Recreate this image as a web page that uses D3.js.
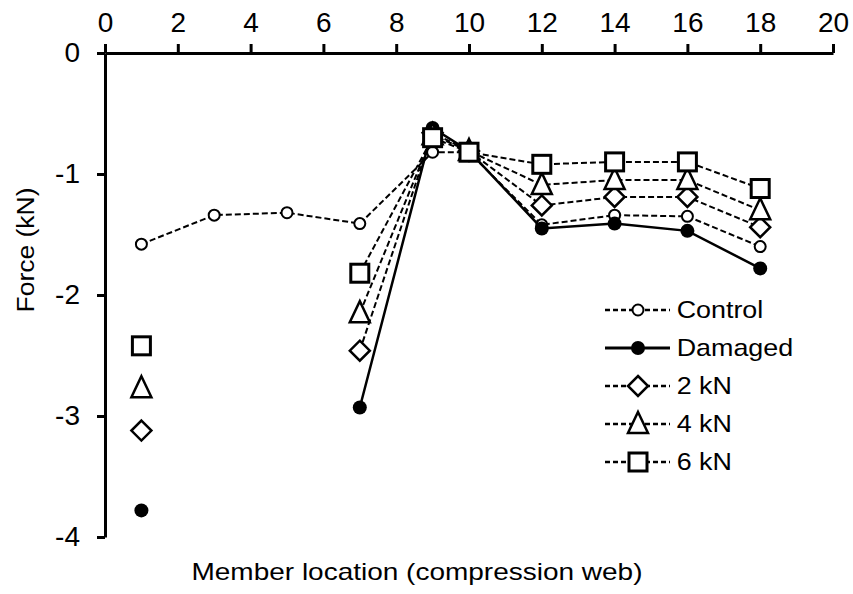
<!DOCTYPE html>
<html>
<head>
<meta charset="utf-8">
<style>
  body { margin: 0; background: #fff; }
  text { font-family: "Liberation Sans", Arial, sans-serif; fill: #000; }
</style>
</head>
<body>
<div id="chart"></div>

<script src="https://d3js.org/d3.v7.min.js"></script>
<script>

	var w = 853, h = 594;

	// member locations along the compression web
	var members = [1, 3, 5, 7, 9, 10, 12, 14, 16, 18];

	// member forces (kN), null where not measured
	var control = [-1.58, -1.34, -1.32, -1.41, -0.82, -0.82, -1.42, -1.34, -1.35, -1.60];
	var damaged = [-3.78, null, null, -2.93, -0.62, -0.81, -1.45, -1.41, -1.47, -1.78];
	var kn2     = [-3.12, null, null, -2.46, -0.66, -0.81, -1.26, -1.19, -1.19, -1.44];
	var kn4     = [-2.77, null, null, -2.15, -0.68, -0.81, -1.09, -1.05, -1.05, -1.30];
	var kn6     = [-2.42, null, null, -1.82, -0.70, -0.82, -0.92, -0.90, -0.90, -1.12];

	var xTicks = [0, 2, 4, 6, 8, 10, 12, 14, 16, 18, 20];
	var yTicks = [0, -1, -2, -3, -4];

	var series = [
		{ name: "Control", values: control, marker: "circle",   dashed: true },
		{ name: "Damaged", values: damaged, marker: "dot",      dashed: false },
		{ name: "2 kN",    values: kn2,     marker: "diamond",  dashed: true },
		{ name: "4 kN",    values: kn4,     marker: "triangle", dashed: true },
		{ name: "6 kN",    values: kn6,     marker: "square",   dashed: true }
	];

	var svg = d3.select("#chart")
				.append("svg")
				.attr("width", w)
				.attr("height", h);

	// scales
	var x = d3.scaleLinear().domain([0, 20]).range([105, 833]);
	var y = d3.scaleLinear().domain([0, -4]).range([53, 537]);

	// axes: x along the top, y on the left
	var xAxis = d3.axisTop(x).tickValues(xTicks).tickSize(9).tickSizeOuter(0).tickPadding(12);
	var yAxis = d3.axisLeft(y).tickValues(yTicks).tickSize(8).tickSizeOuter(0).tickPadding(17)
				  .tickFormat(d3.format("d"));

	var gx = svg.append("g")
		.attr("transform", "translate(0," + y(0) + ")")
		.call(xAxis);
	var gy = svg.append("g")
		.attr("transform", "translate(" + x(0) + ",0)")
		.call(yAxis);

	[gx, gy].forEach(function(g) {
		g.select(".domain").attr("stroke-width", 3).attr("stroke", "#000");
		g.selectAll(".tick line").attr("stroke-width", 3).attr("stroke", "#000");
		g.selectAll(".tick text")
		 .attr("fill", "#000")
		 .style("font-size", "28px")
		 .style("font-family", "'Liberation Sans', Arial, sans-serif");
	});
	gy.selectAll(".tick text").text(function(d) { return d === 0 ? "0" : "-" + Math.abs(d); });

	// marker shapes
	function drawMarker(g, type, cx, cy) {
		if (type === "circle") {
			g.append("circle").attr("cx", cx).attr("cy", cy).attr("r", 5.5)
			 .attr("fill", "#fff").attr("stroke", "#000").attr("stroke-width", 2);
		} else if (type === "dot") {
			g.append("circle").attr("cx", cx).attr("cy", cy).attr("r", 7)
			 .attr("fill", "#000");
		} else if (type === "diamond") {
			g.append("path")
			 .attr("d", "M" + cx + "," + (cy - 10) + "L" + (cx + 10) + "," + cy +
						"L" + cx + "," + (cy + 10) + "L" + (cx - 10) + "," + cy + "Z")
			 .attr("fill", "#fff").attr("stroke", "#000").attr("stroke-width", 2.5);
		} else if (type === "triangle") {
			g.append("path")
			 .attr("d", "M" + cx + "," + (cy - 12) + "L" + (cx + 10) + "," + (cy + 9) +
						"L" + (cx - 10) + "," + (cy + 9) + "Z")
			 .attr("fill", "#fff").attr("stroke", "#000").attr("stroke-width", 2.5);
		} else if (type === "square") {
			g.append("rect").attr("x", cx - 9).attr("y", cy - 9)
			 .attr("width", 18).attr("height", 18)
			 .attr("fill", "#fff").attr("stroke", "#000").attr("stroke-width", 3);
		}
	}

	var line = d3.line()
		.defined(function(d) { return d.v !== null; })
		.x(function(d) { return x(d.m); })
		.y(function(d) { return y(d.v); });

	// draw each series: line then markers
	series.forEach(function(s) {
		var pts = members.map(function(m, i) { return { m: m, v: s.values[i] }; });
		var g = svg.append("g");
		g.append("path")
		 .datum(pts)
		 .attr("d", line)
		 .attr("fill", "none")
		 .attr("stroke", "#000")
		 .attr("stroke-width", s.dashed ? 2 : 2.5)
		 .attr("stroke-dasharray", s.dashed ? "6,3" : null);
		pts.forEach(function(p) {
			if (p.v !== null) drawMarker(g, s.marker, x(p.m), y(p.v));
		});
	});

	// legend
	var legend = svg.append("g").attr("transform", "translate(605,310)");
	series.forEach(function(s, i) {
		var row = legend.append("g").attr("transform", "translate(0," + (i * 38) + ")");
		row.append("line")
		   .attr("x1", 0).attr("x2", 65).attr("y1", 0).attr("y2", 0)
		   .attr("stroke", "#000")
		   .attr("stroke-width", s.dashed ? 2.5 : 3)
		   .attr("stroke-dasharray", s.dashed ? "5,3" : null);
		drawMarker(row, s.marker, 33, 0);
		row.append("text")
		   .attr("x", 64).attr("y", 0)
		   .attr("dy", "0.35em")
		   .attr("transform", "scale(1.12,1)")
		   .style("font-size", "24px")
		   .text(s.name);
	});

	// axis titles
	svg.append("text")
	   .attr("x", 417).attr("y", 580)
	   .attr("text-anchor", "middle")
	   .attr("textLength", 451)
	   .attr("lengthAdjust", "spacingAndGlyphs")
	   .style("font-size", "24px")
	   .text("Member location (compression web)");

	svg.append("text")
	   .attr("transform", "translate(34,250) rotate(-90)")
	   .attr("text-anchor", "middle")
	   .attr("textLength", 125)
	   .attr("lengthAdjust", "spacingAndGlyphs")
	   .style("font-size", "23px")
	   .text("Force (kN)");

</script>
</body>
</html>
